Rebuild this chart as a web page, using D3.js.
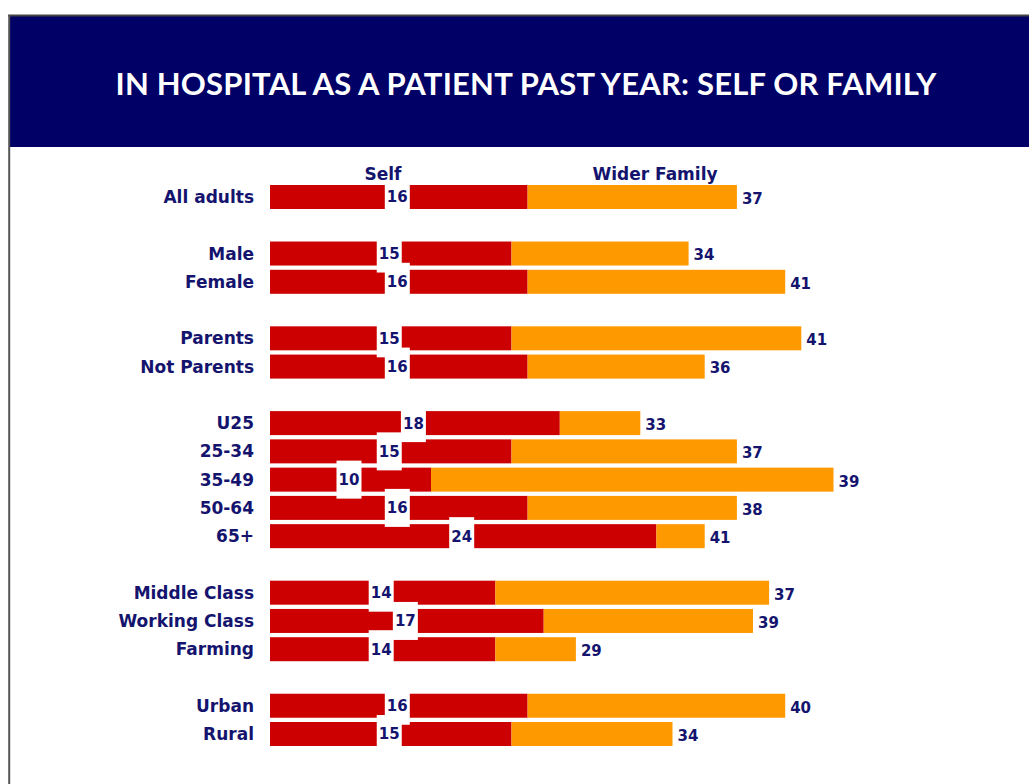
<!DOCTYPE html>
<html>
<head>
<meta charset="utf-8">
<script src="https://cdn.jsdelivr.net/npm/d3@7"></script>
<style>
  body { margin: 0; background: #fff; }
  text { font-family: "DejaVu Sans", Verdana, sans-serif; font-weight: bold; }
</style>
</head>
<body>
<div id="chart"></div>
<script>
const W = 1029, H = 784;

// data
const groups = [
    ["All adults"],
    ["Male", "Female"],
    ["Parents", "Not Parents"],
    ["U25", "25-34", "35-49", "50-64", "65+"],
    ["Middle Class", "Working Class", "Farming"],
    ["Urban", "Rural"]
];
const selfVals = [16, 15, 16, 15, 16, 18, 15, 10, 16, 24, 14, 17, 14, 16, 15];
const familyVals = [37, 34, 41, 41, 36, 33, 37, 39, 38, 41, 37, 39, 29, 40, 34];
// orange part of the wider family bar, as it is drawn
const familyBar = [26, 22, 32, 36, 22, 10, 28, 50, 26, 6, 34, 26, 10, 32, 20];
const headers = ["Self", "Wider Family"];
const title = "IN HOSPITAL AS A PATIENT PAST YEAR: SELF OR FAMILY";

const navy = "#000066", ink = "#14146e", red = "#cc0000", orange = "#ff9900";

// rows, with a gap between groups
let rowKeys = [];
groups.forEach((g, i) => {
    if (i > 0) rowKeys.push("gap" + i);
    g.forEach(c => rowKeys.push(c));
});
const cats = groups.flat();
const data = cats.map((c, i) => ({ cat: c, self: selfVals[i], fam: familyVals[i], bar: familyBar[i] }));

const svg = d3.select("#chart").append("svg")
    .attr("width", W)
    .attr("height", H);

// frame + banner
svg.append("rect").attr("x", 10).attr("y", 16).attr("width", W - 10).attr("height", 131).attr("fill", navy);
svg.append("line").attr("x1", 8).attr("x2", W).attr("y1", 15.5).attr("y2", 15.5).attr("stroke", "#444").attr("stroke-width", 2);
svg.append("line").attr("x1", 9.2).attr("x2", 9.2).attr("y1", 15).attr("y2", H).attr("stroke", "#555").attr("stroke-width", 2);

svg.append("text")
    .attr("x", 526).attr("y", 94.5)
    .attr("text-anchor", "middle")
    .attr("fill", "#fff")
    .style("font-family", "Lato, 'DejaVu Sans', sans-serif")
    .style("font-size", "31px")
    .style("letter-spacing", "0.2px")
    .text(title);

// scales
const x = d3.scaleLinear().domain([0, 80]).range([270, 270 + 80 * 8.05]);
const y = d3.scalePoint().domain(rowKeys).range([197, 734]);
const barH = 24;

// category labels
svg.selectAll(".cat")
    .data(data)
    .join("text")
    .attr("class", "cat")
    .attr("x", 254)
    .attr("y", d => y(d.cat))
    .attr("dy", "0.36em")
    .attr("text-anchor", "end")
    .attr("fill", ink)
    .style("font-size", "17px")
    .text(d => d.cat);

// red part (self, then self again inside family bar)
svg.selectAll(".red")
    .data(data)
    .join("rect")
    .attr("class", "red")
    .attr("x", x(0))
    .attr("y", d => y(d.cat) - barH / 2)
    .attr("width", d => x(2 * d.self) - x(0))
    .attr("height", barH)
    .attr("fill", red);

// orange part
svg.selectAll(".orange")
    .data(data)
    .join("rect")
    .attr("class", "orange")
    .attr("x", d => x(2 * d.self))
    .attr("y", d => y(d.cat) - barH / 2)
    .attr("width", d => x(2 * d.self + d.bar) - x(2 * d.self))
    .attr("height", barH)
    .attr("fill", orange);

// white boxes with self values
const boxes = svg.selectAll(".box")
    .data(data)
    .join("g")
    .attr("class", "box")
    .attr("transform", d => `translate(${x(d.self) - 1.5}, ${y(d.cat)})`);
boxes.append("rect")
    .attr("x", -12.5).attr("y", -19)
    .attr("width", 25).attr("height", 38)
    .attr("fill", "#fff");
boxes.append("text")
    .attr("text-anchor", "middle")
    .attr("dy", "0.36em")
    .attr("fill", ink)
    .style("font-size", "15px")
    .text(d => d.self);

// family values
svg.selectAll(".fam")
    .data(data)
    .join("text")
    .attr("class", "fam")
    .attr("x", d => x(2 * d.self + d.bar) + 5)
    .attr("y", d => y(d.cat) + 1.5)
    .attr("dy", "0.36em")
    .attr("fill", ink)
    .style("font-size", "15px")
    .text(d => d.fam);

// headers on top
svg.selectAll(".hdr")
    .data(headers)
    .join("text")
    .attr("class", "hdr")
    .attr("x", (d, i) => i == 0 ? 383 : 655)
    .attr("y", 180)
    .attr("text-anchor", "middle")
    .attr("fill", ink)
    .style("font-size", "17px")
    .text(d => d);
</script>
</body>
</html>
